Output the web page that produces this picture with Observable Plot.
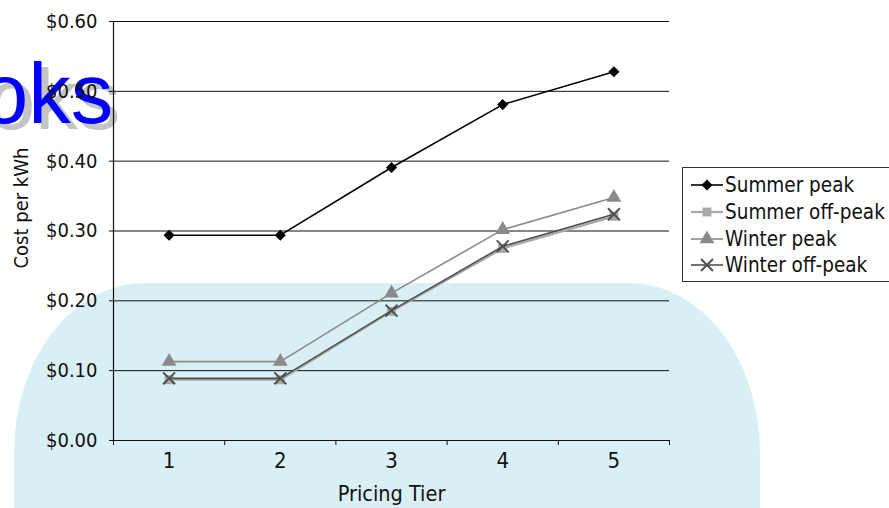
<!DOCTYPE html>
<html><head><meta charset="utf-8">
<script src="https://cdn.jsdelivr.net/npm/d3@7"></script>
<script src="https://cdn.jsdelivr.net/npm/@observablehq/plot@0.6"></script>
<style>
body{margin:0;background:#fff;}
#wrap{position:relative;width:889px;height:508px;overflow:hidden;font-family:"DejaVu Sans Condensed","Liberation Sans Narrow",sans-serif;}
#bg{position:absolute;left:14px;top:283px;width:746px;height:320px;background:#d9eff6;border-radius:130px 130px 0 0 / 170px 170px 0 0;}
#wm{position:absolute;left:-19px;top:51px;font-family:"Liberation Sans",Arial,sans-serif;font-size:85px;line-height:85px;color:#0000ff;text-shadow:7px 6px 0 #c4c4c4;}
#chart{position:absolute;left:0;top:0;}
#chart svg{background:transparent;}
#legend{position:absolute;left:682px;top:167px;width:230px;height:115px;border:1px solid #333;background:#fff;box-sizing:border-box;padding-top:4px;}
.row{display:flex;align-items:center;height:26.7px;}
.row svg{width:40px;height:20px;margin-left:4px;}
.row span{font-size:20.5px;color:#111;margin-left:-2px;white-space:nowrap;}
</style></head>
<body>
<div id="wrap">
  <div id="bg"></div>
  <div id="wm">oks</div>
  <div id="chart"></div>
  <div id="legend"></div>
</div>
<script>
const tiers = [1, 2, 3, 4, 5];
const seriesNames = ["Summer peak", "Summer off-peak", "Winter peak", "Winter off-peak"];
const summerPeak    = [0.294, 0.294, 0.391, 0.481, 0.528];
const summerOffPeak = [0.087, 0.087, 0.185, 0.275, 0.321];
const winterPeak    = [0.113, 0.113, 0.211, 0.302, 0.348];
const winterOffPeak = [0.089, 0.089, 0.186, 0.278, 0.324];
const yTicks = [0, 0.1, 0.2, 0.3, 0.4, 0.5, 0.6];

const styles = {
  "Summer peak":     {color: "#000000", symbol: "diamond2", width: 1.6, r: 5},
  "Summer off-peak": {color: "#a8a8a8", symbol: "square", width: 2.2, r: 5},
  "Winter peak":     {color: "#8a8a8a", symbol: "triangle", width: 1.6, r: 5.5},
  "Winter off-peak": {color: "#505050", symbol: "times", width: 1.6, r: 5.5}
};

const valuesBy = {
  "Summer peak": summerPeak,
  "Summer off-peak": summerOffPeak,
  "Winter peak": winterPeak,
  "Winter off-peak": winterOffPeak
};

const data = [];
for (const s of seriesNames) tiers.forEach((t, i) => data.push({series: s, tier: t, value: valuesBy[s][i]}));

const drawOrder = ["Summer off-peak", "Winter off-peak", "Winter peak", "Summer peak"];
const marks = [];
marks.push(Plot.ruleY(yTicks.filter(d => d > 0), {x1: 0.5, x2: 5.5, stroke: "#111", strokeWidth: 1}));
for (const s of drawOrder) {
  const st = styles[s];
  const rows = data.filter(d => d.series === s);
  marks.push(Plot.line(rows, {x: "tier", y: "value", stroke: st.color, strokeWidth: st.width}));
  const isStroke = st.symbol === "times";
  marks.push(Plot.dot(rows, {x: "tier", y: "value", symbol: () => st.symbol, r: st.r,
    fill: isStroke ? "none" : st.color, stroke: isStroke ? st.color : "none", strokeWidth: isStroke ? 2 : 0}));
}
marks.push(Plot.ruleX([0.5], {stroke: "#111", strokeWidth: 1.2}));
marks.push(Plot.ruleY([0], {stroke: "#111", strokeWidth: 1.2}));
marks.push(Plot.axisY(yTicks, {tickFormat: d3.format("$.2f"), tickSize: 4, tickPadding: 12, fontSize: 20, label: null, stroke: "#111", fill: "#111"}));
marks.push(Plot.axisX([0.5, 1.5, 2.5, 3.5, 4.5, 5.5], {tickFormat: () => "", tickSize: 5, label: null, stroke: "#111"}));
marks.push(Plot.axisX(tiers, {tickFormat: d => String(d), tickSize: 0, tickPadding: 12, fontSize: 22, label: null, fill: "#111"}));
marks.push(Plot.text(["Cost per kWh"], {frameAnchor: "left", textAnchor: "middle", dx: -92, dy: -23, rotate: -90, fontSize: 20, fill: "#111"}));
marks.push(Plot.text(["Pricing Tier"], {frameAnchor: "bottom", dy: 60, fontSize: 21.5, fill: "#111"}));

const chart = Plot.plot({
  width: 889, height: 508,
  marginLeft: 113, marginRight: 220, marginTop: 21, marginBottom: 68,
  style: {fontFamily: '"DejaVu Sans Condensed","Liberation Sans Narrow",sans-serif', background: "transparent", color: "#111"},
  x: {type: "linear", domain: [0.5, 5.5]},
  y: {type: "linear", domain: [0, 0.6]},
  marks
});
document.getElementById("chart").appendChild(chart);

// legend
const legend = d3.select("#legend");
const symMap = {diamond2: d3.symbolDiamond2, square: d3.symbolSquare, triangle: d3.symbolTriangle, times: d3.symbolTimes};
for (const s of seriesNames) {
  const st = styles[s];
  const row = legend.append("div").attr("class", "row");
  const svg = row.append("svg");
  svg.append("line").attr("x1", 4).attr("x2", 36).attr("y1", 10).attr("y2", 10).attr("stroke", st.color).attr("stroke-width", st.width);
  const isStroke = st.symbol === "times";
  svg.append("path").attr("transform", "translate(20,10)")
    .attr("d", d3.symbol(symMap[st.symbol], st.r * st.r * Math.PI)())
    .attr("fill", isStroke ? "none" : st.color).attr("stroke", isStroke ? st.color : "none").attr("stroke-width", 2);
  row.append("span").text(s);
}
</script>
</body></html>
